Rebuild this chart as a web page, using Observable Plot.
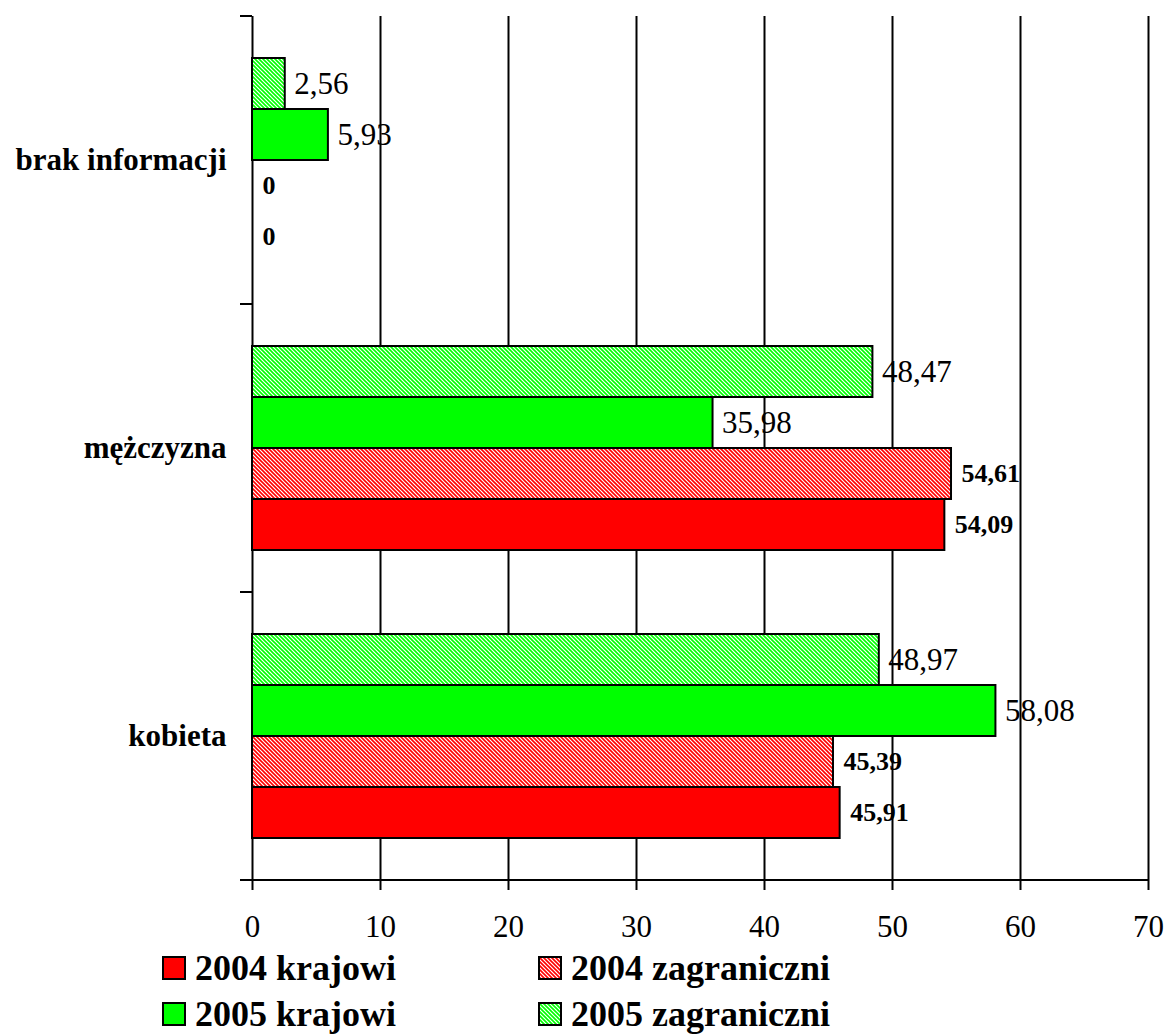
<!DOCTYPE html>
<html>
<head>
<meta charset="utf-8">
<script src="https://cdn.jsdelivr.net/npm/d3@7"></script>
<script src="https://cdn.jsdelivr.net/npm/@observablehq/plot@0.6"></script>
<style>
  html, body { margin: 0; padding: 0; background: white; }
  body { width: 1168px; height: 1036px; overflow: hidden; font-family: "Liberation Serif", "Times New Roman", serif; }
  #legend { position: relative; height: 92px; }
  .row { display: flex; align-items: center; height: 46px; }
  .item { display: flex; align-items: center; font-weight: bold; font-size: 36px; color: black; }
  .item svg { margin-right: 9px; }
</style>
</head>
<body>
<div id="chart"></div>
<div id="legend"></div>
<script>
// ---- data ----
const categories = ["brak informacji", "mężczyzna", "kobieta"];
const seriesOrder = ["2005 zagraniczni", "2005 krajowi", "2004 zagraniczni", "2004 krajowi"];
const legendOrder = ["2004 krajowi", "2004 zagraniczni", "2005 krajowi", "2005 zagraniczni"];
const v2004krajowi = [0, 54.09, 45.91];
const v2004zagraniczni = [0, 54.61, 45.39];
const v2005krajowi = [5.93, 35.98, 58.08];
const v2005zagraniczni = [2.56, 48.47, 48.97];
const xTicks = [0, 10, 20, 30, 40, 50, 60, 70];

const valuesBySeries = {
  "2004 krajowi": v2004krajowi,
  "2004 zagraniczni": v2004zagraniczni,
  "2005 krajowi": v2005krajowi,
  "2005 zagraniczni": v2005zagraniczni
};
const fills = {
  "2004 krajowi": "#ff0000",
  "2004 zagraniczni": "url(#hatchRed)",
  "2005 krajowi": "#00ff00",
  "2005 zagraniczni": "url(#hatchGreen)"
};

const rows = [];
for (const s of seriesOrder) {
  categories.forEach((c, i) => rows.push({cat: c, series: s, value: valuesBySeries[s][i]}));
}
const fmt = v => v === 0 ? "0" : v.toFixed(2).replace(".", ",");
const is2004 = d => d.series.startsWith("2004");

const marks = [
  Plot.ruleX(xTicks.slice(1), {stroke: "black", strokeWidth: 2}),
  Plot.ruleX([0], {stroke: "black", strokeWidth: 2})
];
for (const s of seriesOrder) {
  marks.push(Plot.barX(rows.filter(d => d.series === s), {
    fy: "cat", y: "series", x: "value",
    fill: fills[s], stroke: "black", strokeWidth: 2
  }));
}
marks.push(
  Plot.text(rows.filter(d => !is2004(d)), {
    fy: "cat", y: "series", x: "value", text: d => fmt(d.value),
    textAnchor: "start", dx: 9, fontSize: 31, fill: "black"
  }),
  Plot.text(rows.filter(is2004), {
    fy: "cat", y: "series", x: "value", text: d => fmt(d.value),
    textAnchor: "start", dx: 10, fontSize: 26, fontWeight: "bold", fill: "black"
  }),
  Plot.axisX({ticks: xTicks, tickSize: 10, tickPadding: 24, fontSize: 31, strokeWidth: 2, label: null}),
  Plot.axisFy({anchor: "left", tickSize: 0, tickPadding: 26, fontSize: 31, fontWeight: "bold", label: null})
);

const plot = Plot.plot({
  width: 1168,
  height: 945,
  marginTop: 16,
  marginBottom: 65,
  marginLeft: 252,
  marginRight: 20,
  style: {fontFamily: "'Liberation Serif', 'Times New Roman', serif", color: "black", background: "white", overflow: "visible"},
  x: {domain: [0, 70], axis: null},
  y: {domain: seriesOrder, paddingInner: 0, paddingOuter: 0.77, axis: null},
  fy: {domain: categories, padding: 0, axis: null, label: null},
  marks
});

// pattern definitions
function addDefs(svgSel, prefix) {
  const defs = svgSel.insert("defs", ":first-child");
  const mk = (id, color) => {
    const p = defs.append("pattern").attr("id", prefix + id)
      .attr("patternUnits", "userSpaceOnUse").attr("width", 4).attr("height", 4);
    p.append("rect").attr("width", 4).attr("height", 4).attr("fill", "white");
    p.append("path").attr("d", "M-1,3 L1,5 M0,0 L4,4 M3,-1 L5,1")
      .attr("stroke", color).attr("stroke-width", 1.6);
  };
  mk("hatchRed", "#ff0000");
  mk("hatchGreen", "#00ff00");
}
const svg = d3.select(plot);
addDefs(svg, "");

// axis decorations from the plot's scales
const fy = plot.scale("fy");
const xs = plot.scale("x");
const x0 = xs.apply(0);
const bounds = fy.domain.map(d => fy.apply(d));
bounds.push(fy.apply(fy.domain[fy.domain.length - 1]) + fy.bandwidth);
const g = svg.append("g").attr("stroke", "black").attr("stroke-width", 2);
for (const b of bounds) {
  g.append("line").attr("x1", x0 - 12).attr("x2", x0).attr("y1", b).attr("y2", b);
}
const yBottom = bounds[bounds.length - 1];
g.append("line").attr("x1", x0 - 12).attr("x2", xs.apply(70)).attr("y1", yBottom).attr("y2", yBottom);

document.getElementById("chart").appendChild(plot);

// legend
const legend = d3.select("#legend");
const leftPositions = [162, 538];
for (let r = 0; r < 2; r++) {
  const row = legend.append("div").attr("class", "row");
  for (let c = 0; c < 2; c++) {
    const name = legendOrder[r * 2 + c];
    const item = row.append("div").attr("class", "item")
      .style("position", "absolute").style("left", leftPositions[c] + "px")
      .style("top", (r * 46) + "px").style("height", "46px");
    const sw = item.append("svg").attr("width", 24).attr("height", 24);
    const pref = "lg" + r + c;
    addDefs(sw, pref);
    const f = fills[name].startsWith("url") ? fills[name].replace("#", "#" + pref) : fills[name];
    sw.append("rect").attr("x", 1).attr("y", 1).attr("width", 22).attr("height", 22)
      .attr("fill", f).attr("stroke", "black").attr("stroke-width", 2);
    item.append("span").text(name);
  }
}
</script>
</body>
</html>
